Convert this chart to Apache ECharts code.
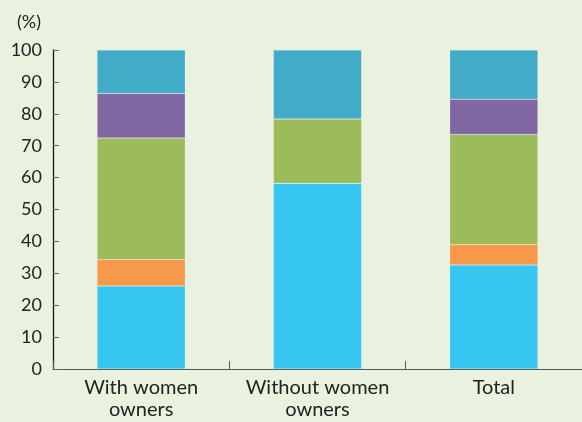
<!DOCTYPE html>
<html><head><meta charset="utf-8">
<script src="https://cdn.jsdelivr.net/npm/echarts@6/dist/echarts.min.js"></script>
<style>html,body{margin:0;padding:0;background:#E9F2DF;}#c{width:582px;height:422px;}</style>
</head><body><div id="c"></div>
<script>
const categories = ['With women\nowners', 'Without women\nowners', 'Total'];
const blueVals = [26, 58.2, 32.6];
const orangeVals = [8.3, 0, 6.4];
const greenVals = [38.1, 20.2, 34.5];
const purpleVals = [14, 0, 11.1];
const tealVals = [13.6, 21.6, 15.4];
const yTicks = [0, 10, 20, 30, 40, 50, 60, 70, 80, 90, 100];

const colors = ['#37C6F2', '#F7994B', '#9CBB5B', '#8167A2', '#42ABC7'];
const seriesData = [blueVals, orangeVals, greenVals, purpleVals, tealVals];
const chart = echarts.init(document.getElementById('c'));
chart.setOption({
  backgroundColor: '#E9F2DF',
  animation: false,
  grid: { left: 53, right: -2, top: 50, bottom: 53, containLabel: false },
  xAxis: {
    type: 'category', data: categories,
    axisLine: { lineStyle: { color: '#555', width: 1 } },
    axisTick: { show: true, inside: true, length: 8, interval: 0, lineStyle: { color: '#555' } },
    axisLabel: { color: '#222', fontFamily: 'Lato', fontSize: 20, lineHeight: 22, margin: 8, interval: 0, hideOverlap: false }
  },
  yAxis: {
    type: 'value', min: 0, max: 100, interval: 10,
    name: '(%)', nameLocation: 'end', nameGap: 19,
    nameTextStyle: { color: '#222', fontFamily: 'Lato', fontSize: 18, align: 'right', padding: [0, 12, 0, 0] },
    axisLine: { show: true, lineStyle: { color: '#111', width: 1.3 } },
    axisTick: { show: true, inside: true, length: 6, lineStyle: { color: '#666' } },
    axisLabel: { color: '#222', fontFamily: 'Lato', fontSize: 18, margin: 11,
      formatter: v => yTicks.includes(v) ? String(v) : '' },
    splitLine: { show: false }
  },
  series: seriesData.map((d, i) => ({
    type: 'bar', stack: 'a', data: d, barWidth: '50%',
    itemStyle: { color: colors[i], borderColor: 'rgba(255,255,255,0.35)', borderWidth: 0.5 }
  }))
});
</script></body></html>
